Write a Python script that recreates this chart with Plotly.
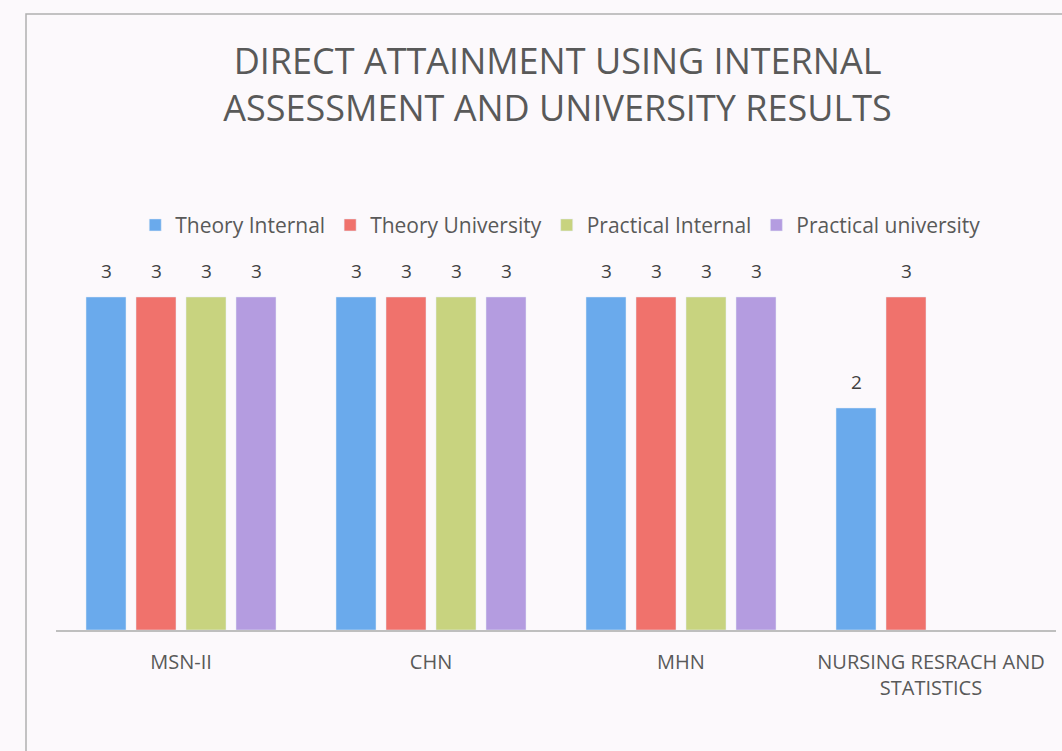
import plotly.graph_objects as go

categories = ["MSN-II", "CHN", "MHN", "NURSING RESRACH AND<br>STATISTICS"]
series_names = ["Theory Internal", "Theory University", "Practical Internal", "Practical university"]
theory_internal = [3, 3, 3, 2]
theory_university = [3, 3, 3, 3]
practical_internal = [3, 3, 3, None]
practical_university = [3, 3, 3, None]
colors = ["#6aaaec", "#f0726c", "#c8d37f", "#b49ce0"]

values = [theory_internal, theory_university, practical_internal, practical_university]
FONT = "Open Sans, Lato, sans-serif"
BAR_PITCH = 50  # px between bar centers in a group

fig = go.Figure()
annotations = []
n = len(values)
for i, (name, vals, col) in enumerate(zip(series_names, values, colors)):
    fig.add_trace(go.Bar(
        name=name, x=categories, y=vals, marker_color=col,
    ))
    for cat, v in zip(categories, vals):
        if v is None:
            continue
        annotations.append(dict(
            x=cat, y=v, xref="x", yref="y", text=str(v), showarrow=False,
            xshift=(i - (n - 1) / 2) * BAR_PITCH, yanchor="bottom", yshift=11,
            font=dict(family=FONT, size=19, color="#404040"),
        ))

fig.update_layout(
    width=1062, height=751,
    paper_bgcolor="#fcf9fc", plot_bgcolor="#fcf9fc",
    barmode="group", bargap=0.2, bargroupgap=0.2,
    margin=dict(l=56, r=6, t=260, b=121),
    title=dict(
        text="DIRECT ATTAINMENT USING INTERNAL<br>ASSESSMENT AND UNIVERSITY RESULTS",
        x=0.525, xanchor="center", xref="container",
        y=0.901, yanchor="middle", yref="container",
        font=dict(family=FONT, size=36, color="#595959"),
    ),
    legend=dict(
        orientation="h", x=0.528, xanchor="center", xref="container",
        y=0.70, yanchor="middle", yref="container",
        font=dict(family=FONT, size=21, color="#595959"),
        itemwidth=30, bgcolor="rgba(0,0,0,0)",
    ),
    xaxis=dict(
        showline=True, linecolor="#bfbfbf", linewidth=1.5,
        ticks="", ticklabelstandoff=13,
        tickfont=dict(family=FONT, size=20, color="#595959"),
    ),
    yaxis=dict(range=[0, 3.333], visible=False, showgrid=False),
    annotations=annotations,
    shapes=[dict(type="rect", xref="paper", yref="paper",
                 x0=-0.03, x1=1.2, y0=-0.5, y1=1.665,
                 line=dict(color="#b0b0b0", width=1.5), layer="below")],
)

fig.write_html("out.html", config={"displayModeBar": False},
               post_script="document.body.style.margin='0';document.body.style.overflow='hidden';")
